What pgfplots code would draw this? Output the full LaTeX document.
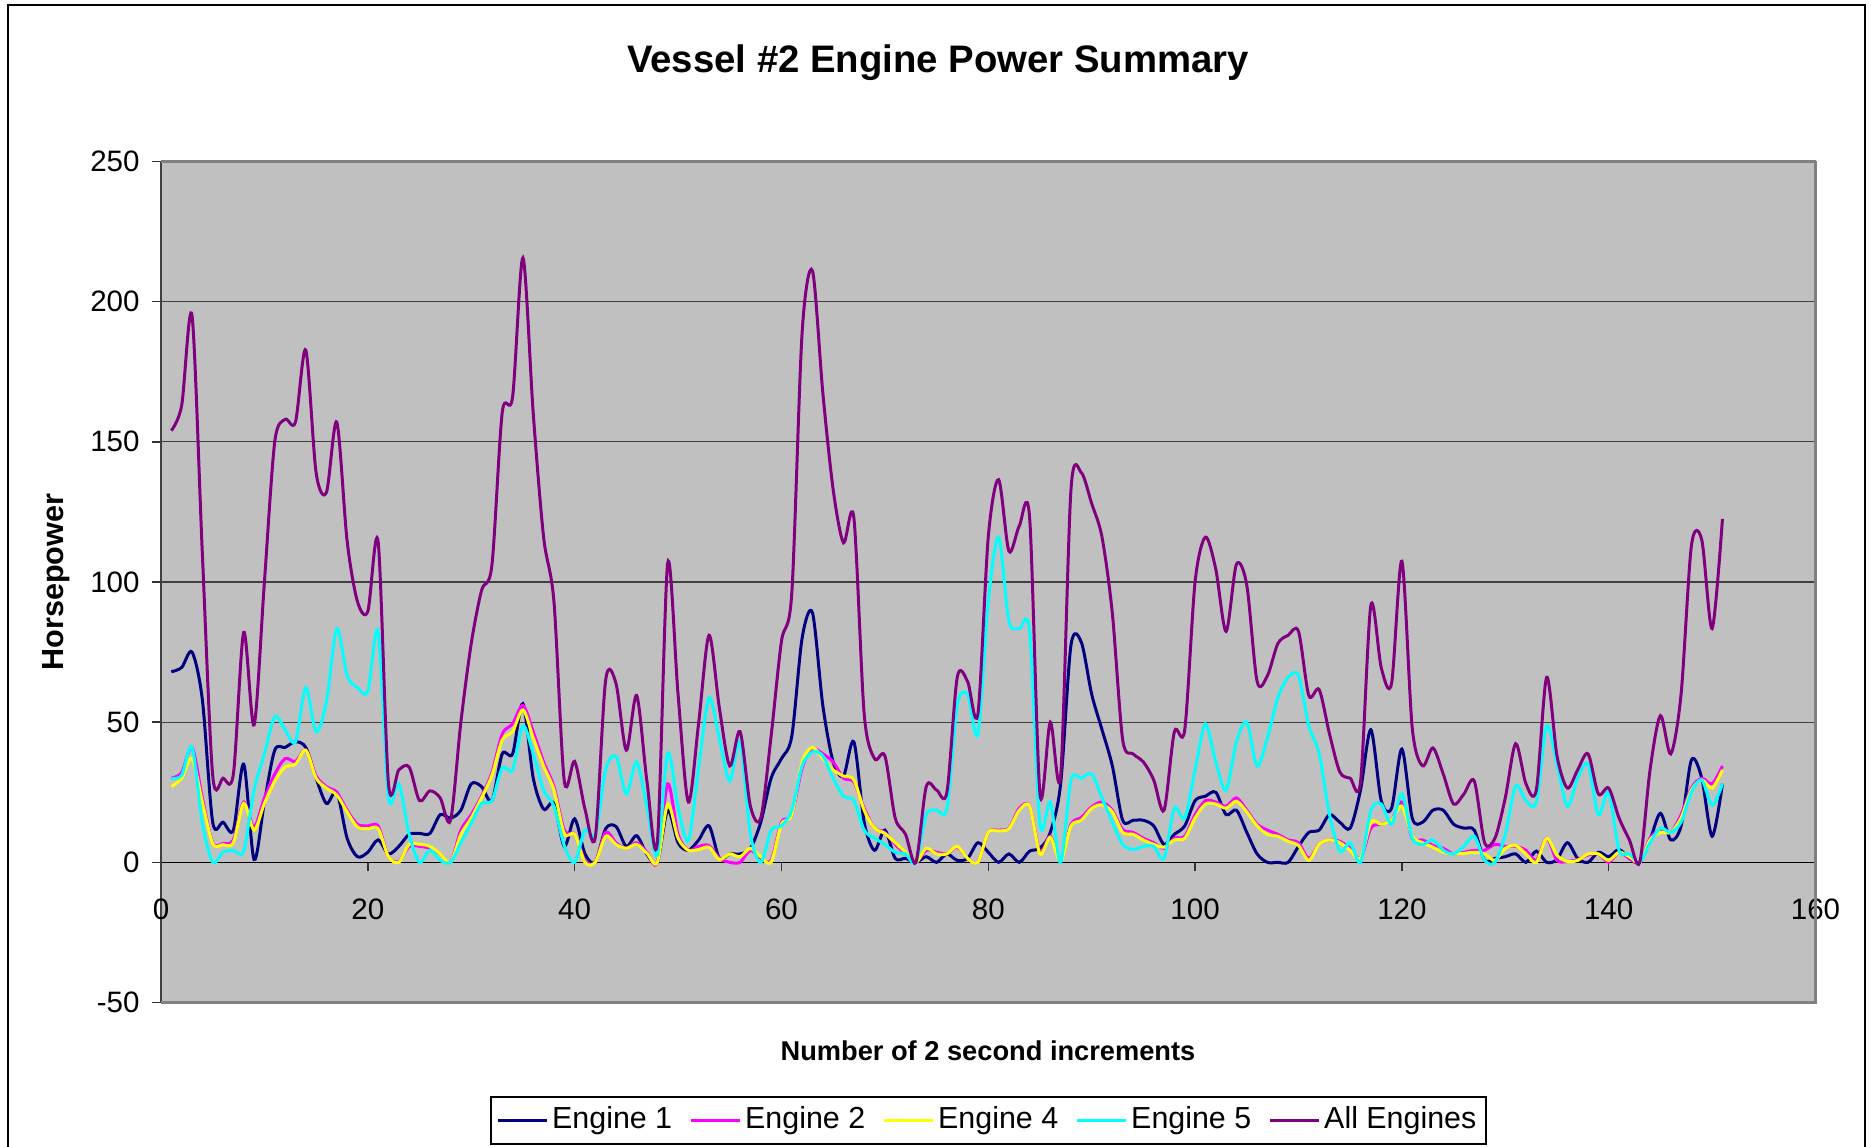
\documentclass[border=0pt]{standalone}
\usepackage{fontspec}
\setmainfont{Liberation Sans}
\usepackage{pgfplots}
\pgfplotsset{compat=1.18}
\usepackage{pgfplotstable}
\definecolor{eone}{RGB}{0,0,128}
\definecolor{etwo}{RGB}{255,0,255}
\definecolor{efour}{RGB}{255,255,0}
\definecolor{efive}{RGB}{0,255,255}
\definecolor{eall}{RGB}{128,0,128}
\definecolor{plotbg}{RGB}{192,192,192}

\pgfplotstableread{
x e1 e2 e4 e5 all
1 68 30 27 30 154
2 69.5 32 30 31 163
3 75 41 37 41 195
4 58 23 21.5 14 110
5 14.3 7 6.7 0 31
6 14.3 6.7 6.3 3.6 30
7 11.5 8 7 4.3 31.5
8 35 21.5 21 4 82
9 1 12.6 11.5 25.8 49
10 21.5 23 21 38.7 100
11 40 31.5 29 52 150
12 41 37 34 47.3 158
13 43 36 35 43 157
14 41 40 40 62.3 182.7
15 30 30.8 30 46.6 139
16 21 27 26.5 57.3 132
17 25 25 24 83.4 157
18 8.6 18.6 18 66.6 114.6
19 2 13.6 12.6 62.3 93
20 3.6 13 12 61 89.5
21 8 13 12 82.4 114.3
22 3 2 2 23 28
23 5.7 0.3 0 28 33
24 10 5.7 6.4 10 34
25 10.3 5.7 6.4 0 22
26 10.3 5 5.7 4.3 25.5
27 17 3 3 0.7 23
28 15.8 0 0 0 15
29 18.6 11.5 10 7 50
30 28 17 15.8 14 78
31 27 23.6 23 21 97
32 22 32 31 22 106
33 38.7 45.8 43.7 33.7 160.5
34 38.7 49.4 46.6 33 166
35 56.6 56 54.4 48.7 215.6
36 30 46.6 44.4 38.7 160
37 19 35.8 34.4 25.8 116
38 21 27 25.8 20 93
39 5.7 11.5 10.3 6 29
40 15.5 10 10 0 36
41 3 0.7 0 11.5 19
42 0 0 0 10 9
43 12 10.7 9.3 33 65
44 12.8 7 6.4 37.8 63.8
45 5.7 5 5 24.5 40
46 9.5 7 6.4 35.8 59.5
47 2.8 3.6 3.2 19.7 28.7
48 0 0 0 2.5 7.2
49 18.6 28 20.8 39 106.7
50 7 10 8.6 19.7 60
51 4.3 4.3 4.3 7.8 21.5
52 8 5.7 4.6 34 50
53 13 6 5.4 58.7 81
54 1.4 1.4 1 44 55
55 3 0 3 29 34.4
56 3 0 2 43 46.6
57 5 4.3 5 10 20
58 14.3 1.4 2 0 15.8
59 30 0.7 0 11.5 45
60 37 14.3 13.6 13 78.8
61 45 17 17 18.6 96
62 80 33.7 35.8 34.4 189
63 89 40.4 41 39.4 211
64 56 38.7 37 38 167.6
65 35.8 35.8 33 30 133
66 30.8 30 30.8 23.6 114
67 43 28.7 29.4 22 123
68 14.3 19.3 18.6 11.5 53
69 4.3 12.2 12.2 8.6 37
70 11.5 10.7 10.3 6.4 38
71 1.4 6.4 7 3.6 15.8
72 1.4 3 3.6 3 10
73 0 0 0 0 0
74 2 4.3 5 17 27
75 0 3.6 3 18.6 25.8
76 3 3 3 19.3 25
77 0.7 5.4 5.7 56 66
78 1.4 1.4 1.4 60 64.5
79 7 0 0 45.8 53
80 3.6 10.7 10.7 93 116
81 0 11.5 11.2 116 136.5
82 3 12.2 12 86 111
83 0 19.3 18.6 83.4 120
84 4 20 20 82.4 123
85 5 3.6 3 13.6 24.4
86 10.7 9.3 8.9 21.5 50
87 28 0.7 0.3 0 30.8
88 77.5 13.6 13 29.4 133
89 78.5 16 15 30 139
90 60 19.8 19.3 31.5 128
91 47.3 21.5 20.5 23 116
92 34.4 18.6 18 14.3 88.8
93 15 11.7 10.7 6.4 43.7
94 15 10.7 10 4.6 38.7
95 15 8.6 8 5.7 35.8
96 13 7 6.4 5.7 29.4
97 6.4 5 5.4 1.4 18.6
98 10 8.6 8 19.3 46.6
99 13 9.3 8.6 15.8 47.3
100 22 17 15.8 33 100
101 23.6 22 20.8 49.4 116
102 25 21.5 20.8 35.8 104.6
103 17 20 19.3 25.8 82.4
104 18.6 23 21.8 43 106.3
105 10.7 18.6 18 50 98.9
106 3 13.6 13 34.4 64.5
107 0 11.5 10 44.4 66.6
108 0 10 9.3 58.7 78
109 0 8 7.5 66 81
110 5.7 7 6 66.6 82.4
111 10.7 1.4 0.7 48.7 59.5
112 11.5 6.4 6.4 38.7 61.6
113 17 8 8 17 45.8
114 14.3 7.5 7 4 32.2
115 12.2 5 4.3 7 30
116 25.8 1.4 1.4 0 28.7
117 47.3 12.2 14.3 18.6 91.7
118 22 13.6 13.6 20.8 69.5
119 19.3 15 15 13.6 63.8
120 40.4 21.5 20 24.4 107.4
121 15.8 8.6 9.3 8.6 48
122 14.3 8 7 6.4 34.4
123 18.6 6 5.4 8 40.8
124 18.6 5 3.6 4.3 31.5
125 13.6 3 3 3 20.8
126 12.2 3.6 3.2 5.7 24.4
127 11.5 4.3 3.6 9.3 29
128 0.7 4.3 3 0.7 7
129 1.4 6.4 0.7 0 8.6
130 2 5.7 5 10 23
131 3 5.7 6 27.2 42.3
132 0 4.3 3 22 28
133 4 0.7 0 21.5 25.8
134 0 8.6 8.6 48.7 66
135 1 0.7 2.5 35 38
136 7 0.3 0.3 20 26.5
137 1.4 1 0.7 30 33
138 0 2.6 3 35 38.7
139 3.6 3 3 17 24.4
140 2 0 0.7 25 26.5
141 4.6 3.6 3.6 4.3 15.8
142 1.4 1.4 2 3 8
143 0 0 0 0 0
144 8 8.6 8 7 33
145 17.5 11.5 10.7 12.2 52.3
146 8 10.7 10.7 10.7 38.7
147 13 17 15.8 14.3 60
148 36.5 26.5 25.8 25 113
149 30 30 29.4 29.4 115
150 9.3 28 26.5 20.3 83.4
151 28 34.4 33 28 122.5
}\datatable

\begin{document}
\begin{tikzpicture}[x=1mm,y=1mm]
\useasboundingbox (0,0) rectangle (187.1,114.6);
\draw[line width=0.5pt] (0.8,-2) -- (0.8,114.1) -- (186.5,114.1) -- (186.5,-2);
\node[font=\bfseries\fontsize{10.9}{13}\selectfont, anchor=base] at (93.8,107.3) {Vessel \#2 Engine Power Summary};
\node[font=\bfseries\fontsize{7.75}{10}\selectfont] at (98.8,9.5) {Number of 2 second increments};
\node[font=\bfseries\fontsize{8.7}{10}\selectfont, rotate=90] at (5.6,56.4) {Horsepower};
\begin{axis}[
  at={(16.1mm,14.35mm)}, anchor=south west,
  scale only axis, width=165.45mm, height=84.1mm,
  xmin=0, xmax=160, ymin=-50, ymax=250,
  axis x line=middle, axis y line=left,
  axis line style={-},
  x axis line style={-, black, line width=0.4pt},
  y axis line style={-, black!75, line width=0.5pt},
  every inner x axis line/.append style={-},
  hide obscured x ticks=false, hide obscured y ticks=false,
  axis background/.style={fill=plotbg},
  xtick={0,20,...,160}, ytick={-50,0,...,250},
  tick align=outside, major tick length=0.9mm,
  tick style={black!80, line width=0.4pt},
  ymajorgrids, major grid style={draw=black!75, line width=0.35pt},
  /pgf/number format/assume math mode=true,
  ticklabel style={font=\fontsize{8.4}{10}\selectfont},
  yticklabel style={xshift=0mm},
  xticklabel style={yshift=-1.5mm},
  legend columns=5,
  legend style={at={(0.5,-0.1403)}, anchor=center, draw=black, line width=0.5pt,
    font=\fontsize{8.65}{10}\selectfont, inner xsep=0.6mm, inner ysep=0.3mm,
    nodes={inner xsep=0.35mm},
    /tikz/every even column/.append style={column sep=1.4mm}},
  legend image code/.code={\draw[#1] (0mm,0mm) -- (4.9mm,0mm);},
]
\addplot[eone, line width=0.3mm, smooth, tension=0.5] table[x=x,y=e1]{\datatable};
\addlegendentry{Engine 1}
\addplot[etwo, line width=0.3mm, smooth, tension=0.5] table[x=x,y=e2]{\datatable};
\addlegendentry{Engine 2}
\addplot[efour, line width=0.3mm, smooth, tension=0.5] table[x=x,y=e4]{\datatable};
\addlegendentry{Engine 4}
\addplot[efive, line width=0.3mm, smooth, tension=0.5] table[x=x,y=e5]{\datatable};
\addlegendentry{Engine 5}
\addplot[eall, line width=0.3mm, smooth, tension=0.5] table[x=x,y=all]{\datatable};
\addlegendentry{All Engines}
\end{axis}
\draw[black!50, line width=0.25mm] (16.1,98.45) -- (181.55,98.45);
\draw[black!50, line width=0.35mm] (181.55,98.45) -- (181.55,14.35) -- (16.1,14.35);
\end{tikzpicture}
\end{document}
